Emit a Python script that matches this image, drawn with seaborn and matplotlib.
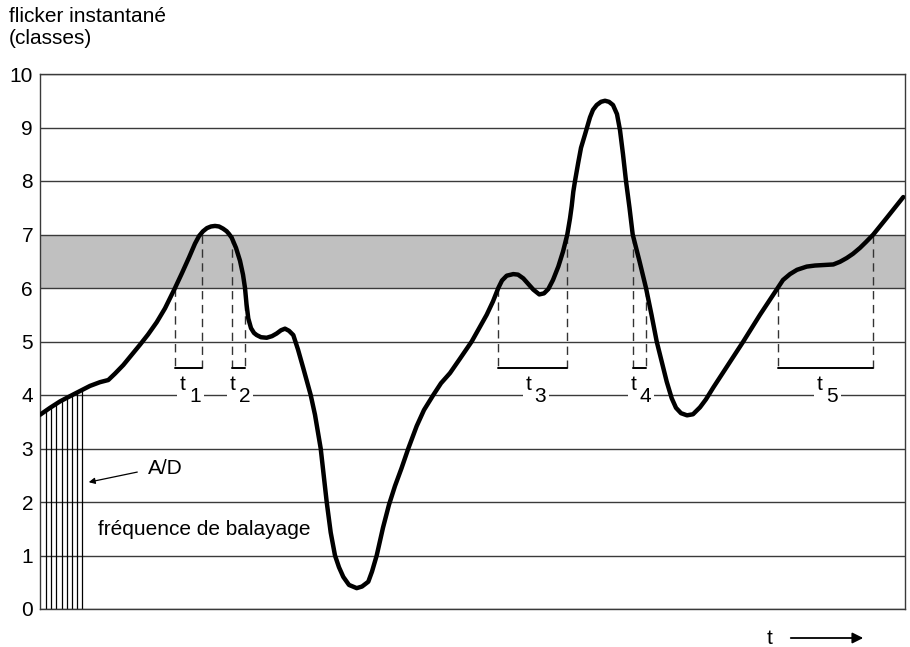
import numpy as np
import pandas as pd
import matplotlib
matplotlib.use("Agg")
import matplotlib.pyplot as plt
import seaborn as sns

# Instantaneous flicker level (classes) along the time axis
t_values = [40, 50, 60, 73.3, 90, 100, 108.3, 115, 123.3, 140, 148, 156.7, 165, 175, 182,
            189, 195, 199, 203, 207, 211, 215, 219, 223, 226.7, 229, 231.7, 236, 240,
            243, 245, 246.5, 248.3, 251, 254, 256.7, 261, 266.7, 272, 276.7, 281, 285, 289,
            293.3, 298, 303.3, 310.7, 315, 320.7, 326.7, 330.7, 335, 339, 343.3, 349, 356.7,
            362, 368.3, 372, 376.7, 383, 389, 395, 401.5, 408.3, 416.7, 424, 433.3, 441, 450,
            460, 471.7, 486.7, 493, 498.3, 502, 506.7, 513.3, 518, 523.3, 528, 533.3, 539.3,
            544, 548.3, 553, 558.3, 563, 567.3, 570, 571.7, 573.3, 575, 578.3, 581, 585, 590,
            593, 596.7, 601, 605, 609, 613, 617, 620, 623, 626, 629.5, 632.7, 639.5, 646,
            651.5, 656.7, 662, 666.7, 671.7, 676, 681, 687, 693, 700, 706, 713.3, 743.3, 760,
            777.7, 783, 790, 797, 806.7, 815, 823.3, 833.3, 840, 846.7, 853, 860, 866, 873.3,
            886.7, 903.3]
flicker_values = [3.63, 3.76, 3.88, 4.01, 4.17, 4.24, 4.28, 4.4, 4.56, 4.94, 5.13, 5.36, 5.62,
                  6.0, 6.28, 6.57, 6.83, 6.97, 7.06, 7.12, 7.15, 7.16, 7.15, 7.11, 7.06, 7.01,
                  6.94, 6.75, 6.51, 6.25, 6.0, 5.7, 5.43, 5.25, 5.16, 5.12, 5.08, 5.07, 5.1,
                  5.15, 5.21, 5.24, 5.2, 5.12, 4.85, 4.5, 4.0, 3.63, 3.0, 2.0, 1.43, 1.0, 0.78,
                  0.6, 0.45, 0.39, 0.42, 0.51, 0.7, 1.0, 1.52, 1.95, 2.3, 2.63, 3.0, 3.42,
                  3.72, 4.0, 4.22, 4.41, 4.68, 5.0, 5.5, 5.75, 6.0, 6.14, 6.23, 6.26, 6.25,
                  6.18, 6.08, 5.97, 5.88, 5.9, 5.98, 6.15, 6.4, 6.68, 7.0, 7.3, 7.53, 7.8, 8.0,
                  8.35, 8.62, 8.87, 9.19, 9.33, 9.42, 9.48, 9.5, 9.48, 9.42, 9.25, 8.95, 8.5,
                  8.0, 7.5, 7.0, 6.5, 6.0, 5.5, 5.0, 4.6, 4.25, 3.94, 3.76, 3.66, 3.62, 3.64,
                  3.77, 3.92, 4.14, 5.0, 5.5, 6.0, 6.15, 6.26, 6.34, 6.4, 6.42, 6.43, 6.44,
                  6.49, 6.56, 6.64, 6.75, 6.86, 7.0, 7.31, 7.7]

# Class band and axis ticks
band_low, band_high = 6, 7
y_ticks = list(range(0, 11))

# Time intervals spent inside the band
interval_names = ["1", "2", "3", "4", "5"]
interval_starts = [175, 231.7, 498.3, 632.7, 777.7]
interval_ends = [201.7, 245, 567.3, 646, 873.3]
interval_start_levels = [6, 7, 6, 7, 6]
interval_end_levels = [7, 6, 7, 6, 7]
interval_label_t = [183, 232.7, 528.3, 633.3, 820]
interval_bar_level = 4.5

# Sampling instants of the A/D converter
sampling_t = [45.7, 50.7, 56, 61.7, 67, 72.3, 77.3, 82.3]

sns.set_theme(style="white")
plt.rcParams["font.family"] = ["Liberation Sans", "DejaVu Sans"]

FS = 15
W, H = 910, 647
fig = plt.figure(figsize=(W / 100, H / 100), dpi=100)
ax = fig.add_axes([40 / W, (H - 609) / H, (905 - 40) / W, (609 - 74) / H])

ax.set_xlim(40, 905)
ax.set_ylim(0, 10)

# band and horizontal grid
ax.axhspan(band_low, band_high, color="#c0c0c0", zorder=0, lw=0)
for yv in y_ticks:
    ax.axhline(yv, color="#3a3a3a", lw=1.0, zorder=1)

# sampling lines from 0 up to the curve
for ts in sampling_t:
    top = np.interp(ts, t_values, flicker_values)
    ax.plot([ts, ts], [0, top], color="black", lw=0.9, zorder=2)

# interval markers
for start, end, ls, le in zip(interval_starts, interval_ends,
                               interval_start_levels, interval_end_levels):
    ax.plot([start, start], [ls, interval_bar_level], color="#333333", lw=1.0,
            dashes=(6, 4), zorder=2)
    ax.plot([end, end], [le, interval_bar_level], color="#333333", lw=1.0,
            dashes=(6, 4), zorder=2)
    ax.plot([start, end], [interval_bar_level, interval_bar_level], color="black",
            lw=1.4, zorder=2)

for name, tx in zip(interval_names, interval_label_t):
    ax.text(tx, 4.2, "t", ha="center", va="center", fontsize=FS, color="black",
            zorder=3, bbox=dict(fc="white", ec="none", pad=2))
    ax.text(tx + 12, 3.98, name, ha="center", va="center", fontsize=FS, color="black",
            zorder=3, bbox=dict(fc="white", ec="none", pad=2))

# flicker curve
df = pd.DataFrame({"t": t_values, "flicker": flicker_values})
sns.lineplot(data=df, x="t", y="flicker", ax=ax, color="black", lw=3.2, sort=False,
             zorder=4, solid_joinstyle="round", solid_capstyle="round")

# annotations
ax.annotate("", xy=(86, 2.36), xytext=(140, 2.57),
            arrowprops=dict(arrowstyle="-|>", color="black", lw=0.9, mutation_scale=9))
ax.text(148, 2.62, "A/D", ha="left", va="center", fontsize=FS, color="black")
ax.text(98, 1.48, "fréquence de balayage", ha="left", va="center", fontsize=FS,
        color="black")

# axes styling
ax.set_xlabel("")
ax.set_ylabel("")
ax.set_xticks([])
ax.set_yticks(y_ticks)
ax.set_yticklabels([str(v) for v in y_ticks], fontsize=FS, color="black")
ax.tick_params(axis="y", length=0, pad=5)
for side in ["left", "bottom", "right", "top"]:
    ax.spines[side].set_visible(True)
    ax.spines[side].set_color("#3a3a3a")
    ax.spines[side].set_linewidth(1.0)

fig.text(9 / W, (H - 7) / H, "flicker instantané\n(classes)", ha="left", va="top",
         fontsize=FS, color="black", linespacing=1.2)

fig.text(770 / W, (H - 639) / H, "t", ha="center", va="center", fontsize=FS,
         color="black")
fig.patches.append(matplotlib.patches.FancyArrowPatch(
    (788 / W, (H - 638) / H), (866 / W, (H - 638) / H), transform=fig.transFigure,
    arrowstyle="-|>", mutation_scale=16, color="black", lw=1.3))

fig.savefig("out.png", dpi=100, facecolor="white")
